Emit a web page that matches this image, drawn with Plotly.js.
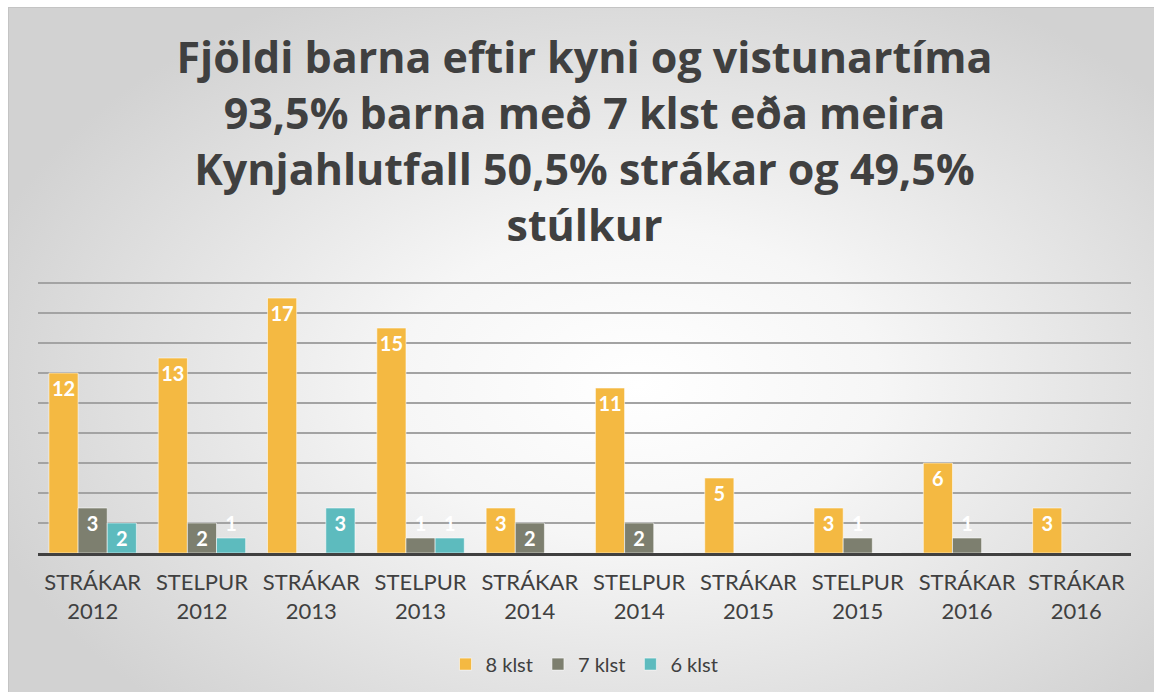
<!DOCTYPE html>
<html>
<head>
<meta charset="utf-8">
<script src="https://cdn.plot.ly/plotly-3.0.1.min.js"></script>
<style>
  html, body { margin: 0; padding: 0; background: #ffffff; width: 1154px; height: 698px; overflow: hidden; }
  #bg { position: absolute; left: 8px; top: 7px; width: 1146px; height: 685px; box-sizing: border-box;
        border-left: 1px solid #c4c4c4; border-top: 1px solid #c4c4c4;
        background: radial-gradient(ellipse 60% 65% at 55% 55%, #ffffff 0%, #f6f6f6 35%, #d2d2d2 100%); }
  #chart { position: absolute; left: 0; top: 0; width: 1154px; height: 698px; }
</style>
</head>
<body>
<div id="bg"></div>
<div id="chart"></div>
<script>
const groups = ["STRÁKAR", "STELPUR", "STRÁKAR", "STELPUR", "STRÁKAR", "STELPUR", "STRÁKAR", "STELPUR", "STRÁKAR", "STRÁKAR"];
const years  = ["2012", "2012", "2013", "2013", "2014", "2014", "2015", "2015", "2016", "2016"];
const seriesNames = ["8 klst", "7 klst", "6 klst"];
const klst8 = [12, 13, 17, 15, 3, 11, 5, 3, 6, 3];
const klst7 = [3, 2, 0, 1, 2, 2, 0, 1, 1, 0];
const klst6 = [2, 1, 3, 1, 0, 0, 0, 0, 0, 0];
const colors = ["#F4B942", "#7D7F6F", "#5DBBBE"];

const idx = groups.map((g, i) => i);
const tickText = groups.map((g, i) => g + "<br>" + years[i]);
const labelFont = {family: "Lato, 'Open Sans', sans-serif", size: 20, color: "#ffffff", weight: 700};

function mk(vals, name, color) {
  return {
    type: "bar", x: idx, y: vals, name: name,
    marker: {color: color, line: {color: "rgba(255,255,255,0.55)", width: 1}},
    text: vals.map(v => v > 0 ? String(v) : ""),
    textposition: vals.map(v => v >= 2 ? "inside" : "outside"),
    insidetextanchor: "end", textangle: 0,
    textfont: labelFont, insidetextfont: labelFont, outsidetextfont: labelFont,
    constraintext: "none", cliponaxis: false, hoverinfo: "none"
  };
}

const data = [mk(klst8, seriesNames[0], colors[0]), mk(klst7, seriesNames[1], colors[1]), mk(klst6, seriesNames[2], colors[2])];

const layout = {
  width: 1154, height: 698,
  paper_bgcolor: "rgba(0,0,0,0)", plot_bgcolor: "rgba(0,0,0,0)",
  margin: {l: 38, r: 23, t: 282, b: 145},
  barmode: "group", bargap: 0.2, bargroupgap: 0,
  title: {
    text: "Fjöldi barna eftir kyni og vistunartíma<br>93,5% barna með 7 klst eða meira<br>Kynjahlutfall 50,5% strákar og 49,5%<br>stúlkur",
    font: {family: "'Open Sans', Lato, sans-serif", size: 43, color: "#404040", weight: 700},
    x: 0.5, xref: "paper", xanchor: "center", y: 0.895, yref: "container", yanchor: "top"
  },
  xaxis: {
    tickmode: "array", tickvals: idx, ticktext: tickText,
    range: [-0.5, idx.length - 0.5],
    showline: true, linecolor: "#404040", linewidth: 3,
    ticks: "", showgrid: false, zeroline: false, ticklabelstandoff: 8,
    tickfont: {family: "Lato, 'Open Sans', sans-serif", size: 22, color: "#404040"}
  },
  yaxis: {
    range: [0, 18.07], dtick: 2, showticklabels: false, ticks: "",
    showgrid: true, gridcolor: "#a3a3a3", gridwidth: 1.5, zeroline: false, showline: false
  },
  showlegend: true,
  legend: {
    orientation: "h", x: 0.5, xanchor: "center", y: -0.41, yanchor: "middle",
    font: {family: "Lato, 'Open Sans', sans-serif", size: 20, color: "#404040"},
    bgcolor: "rgba(0,0,0,0)", itemwidth: 30, traceorder: "normal"
  }
};

Plotly.newPlot("chart", data, layout, {displayModeBar: false, staticPlot: true});
</script>
</body>
</html>
